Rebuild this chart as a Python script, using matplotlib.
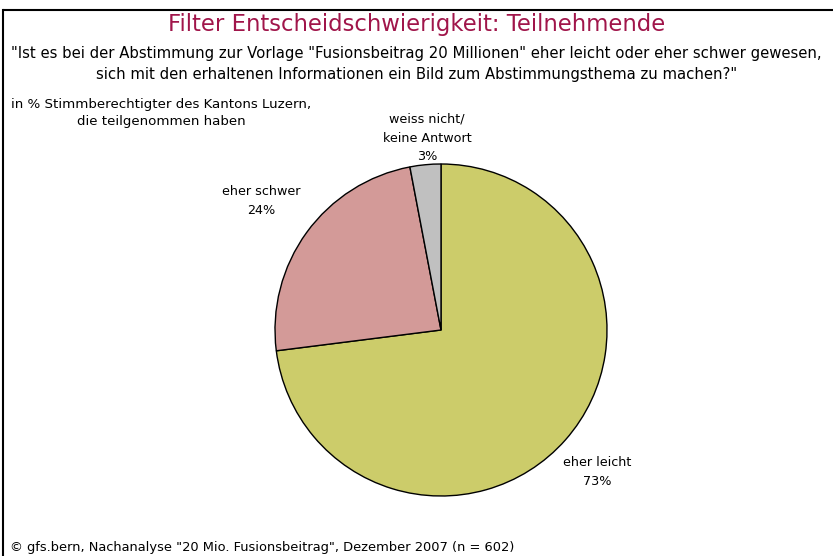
import matplotlib.pyplot as plt

labels = ['eher leicht', 'eher schwer', 'weiss nicht/\nkeine Antwort']
values = [73, 24, 3]
colors = ['#CCCC6A', '#D39A98', '#C0C0C0']

plt.rcParams['font.family'] = ['DejaVu Sans']

fig = plt.figure(figsize=(8.33, 5.56), dpi=100)

# frame lines (top and left)
fig.add_artist(plt.Line2D([0.005, 1.0], [1 - 10 / 556, 1 - 10 / 556], color='black', linewidth=1.5))
fig.add_artist(plt.Line2D([0.004, 0.004], [0.0, 1 - 10 / 556], color='black', linewidth=1.5))

fig.text(0.5, 1 - 24 / 556, 'Filter Entscheidschwierigkeit: Teilnehmende', ha='center', va='center',
         fontsize=16.4, color='#A0154A')
fig.text(0.5, 1 - 64 / 556, '"Ist es bei der Abstimmung zur Vorlage "Fusionsbeitrag 20 Millionen" eher leicht oder eher schwer gewesen,\n'
         'sich mit den erhaltenen Informationen ein Bild zum Abstimmungsthema zu machen?"',
         ha='center', va='center', fontsize=10.7, linespacing=1.45)
fig.text(161 / 833, 1 - 113 / 556, 'in % Stimmberechtigter des Kantons Luzern,\ndie teilgenommen haben',
         ha='center', va='center', fontsize=9.6, linespacing=1.45)
fig.text(0.012, 1 - 548 / 556, '© gfs.bern, Nachanalyse "20 Mio. Fusionsbeitrag", Dezember 2007 (n = 602)',
         ha='left', va='center', fontsize=9.35)

r = 166
ax = fig.add_axes([(441 - r) / 833, 1 - (330 + r) / 556, 2 * r / 833, 2 * r / 556])
wedges, _ = ax.pie(values, colors=colors, startangle=90, counterclock=False,
                   wedgeprops=dict(edgecolor='black', linewidth=1))
ax.set_aspect('auto')
ax.set_xlim(-1, 1)
ax.set_ylim(-1, 1)
ax.axis('off')

label_pos = [(597, 472), (261, 201), (427, 138)]
for lab, v, (x, y) in zip(labels, values, label_pos):
    fig.text(x / 833, 1 - y / 556, f'{lab}\n{v}%', ha='center', va='center', fontsize=9.2, linespacing=1.55)

fig.savefig('out.png', dpi=100)
